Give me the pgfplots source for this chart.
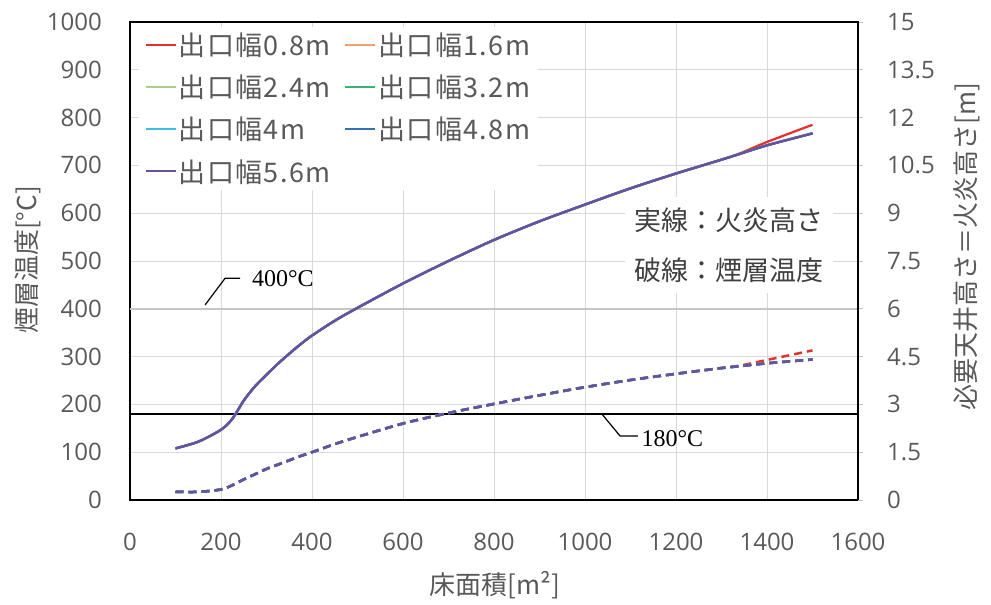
\documentclass[border=0pt]{standalone}
\usepackage{pgfplots}
\usepackage{pgfplotstable}
\pgfplotsset{compat=1.18}
\usepackage{fontspec}
\setmainfont{Open Sans}
\newfontfamily\cjk{Noto Sans CJK JP}
\newfontfamily\cjkls{Noto Sans CJK JP}[LetterSpace=5]
\newfontfamily\sernum{Liberation Serif}
\definecolor{txt}{HTML}{595959}
\definecolor{gridc}{HTML}{D9D9D9}
\definecolor{c1}{HTML}{E3312D}
\definecolor{c2}{HTML}{F4A06A}
\definecolor{c3}{HTML}{A8D08D}
\definecolor{c4}{HTML}{3BB273}
\definecolor{c5}{HTML}{3CBCE8}
\definecolor{c6}{HTML}{3470B8}
\definecolor{c7}{HTML}{6950A1}

\pgfplotstableread{
x s d
100 108 17
150 122 17
200 147 22
225 170 31
250 208 43
275 238 54
300 262 65
325 285 74
350 306 83
375 326 92
400 344 100
450 375 117
500 402 132
600 453 160
700 500 182
800 544 201
900 583 219
1000 618 236
1100 652 251
1200 683 264
1300 712 276
1340 724 280
1400 742 286
1500 767 294
}\purpledata

\pgfplotstableread{
x s d
100 108 17
150 122 17
200 147 22
225 170 31
250 208 43
275 238 54
300 262 65
325 285 74
350 306 83
375 326 92
400 344 100
450 375 117
500 402 132
600 453 160
700 500 182
800 544 201
900 583 219
1000 618 236
1100 652 251
1200 683 264
1300 712 276
1340 725 281
1400 749 293
1500 785 313
}\reddata

\begin{document}
\begin{tikzpicture}
\path[use as bounding box] (0,0) rectangle (991bp,605bp);
\begin{axis}[
  at={(130bp,105bp)}, anchor=south west,
  width=728bp, height=478bp, scale only axis,
  xmin=0, xmax=1600, ymin=0, ymax=1000,
  xtick={0,200,...,1600}, ytick={0,100,...,1000},
  grid=major, major grid style={gridc, line width=0.8bp},
  axis line style={black, line width=2bp},
  major tick length=0pt,
  /pgf/number format/assume math mode=true,
  /pgf/number format/set thousands separator={},
  ticklabel style={font=\fontsize{24bp}{28bp}\selectfont, text=txt, inner sep=0pt},
  xticklabel style={anchor=center, yshift=-42bp},
  yticklabel style={anchor=east, xshift=-28bp},
  xlabel={\cjk 床面積[m²]},
  xlabel style={at={(axis description cs:0.501,-0.178)}, anchor=center, font=\fontsize{26bp}{30bp}\selectfont, text=txt},
  ylabel={\cjk 煙層温度[°C]},
  ylabel style={at={(axis description cs:-0.140,0.502)}, anchor=center, font=\fontsize{26bp}{30bp}\selectfont, text=txt},
  legend style={at={(rel axis cs:0.012,0.99)}, anchor=north west, draw=none, fill=white,
    font=\cjkls\fontsize{27bp}{30bp}\selectfont, text=txt,
    /tikz/every even column/.append style={column sep=12bp},
    inner xsep=6bp, inner ysep=4bp, row sep=14bp},
  legend columns=2,
  legend cell align=left,
  legend image code/.code={\draw[#1, line width=2bp] (0bp,0bp) -- (30bp,0bp);},
]
\addplot[gray!45, line width=1.6bp, forget plot] coordinates {(0,400) (1600,400)};
\addplot[black, line width=1.6bp, forget plot] coordinates {(0,180) (1600,180)};

\addplot[c1, line width=2.25bp, smooth] table[x=x,y=s]{\reddata};
\addlegendentry{出口幅0.8m}
\addplot[c2, line width=2.25bp, smooth] table[x=x,y=s]{\purpledata};
\addlegendentry{出口幅1.6m}
\addplot[c3, line width=2.25bp, smooth] table[x=x,y=s]{\purpledata};
\addlegendentry{出口幅2.4m}
\addplot[c4, line width=2.25bp, smooth] table[x=x,y=s]{\purpledata};
\addlegendentry{出口幅3.2m}
\addplot[c5, line width=2.25bp, smooth] table[x=x,y=s]{\purpledata};
\addlegendentry{出口幅4m}
\addplot[c6, line width=2.25bp, smooth] table[x=x,y=s]{\purpledata};
\addlegendentry{出口幅4.8m}
\addplot[c7, line width=2.25bp, smooth] table[x=x,y=s]{\purpledata};
\addlegendentry{出口幅5.6m}

\addplot[c1, line width=2.5bp, dash pattern=on 8bp off 5bp, smooth, forget plot] table[x=x,y=d]{\reddata};
\addplot[c2, line width=2.5bp, dash pattern=on 8bp off 5bp, smooth, forget plot] table[x=x,y=d]{\purpledata};
\addplot[c3, line width=2.5bp, dash pattern=on 8bp off 5bp, smooth, forget plot] table[x=x,y=d]{\purpledata};
\addplot[c4, line width=2.5bp, dash pattern=on 8bp off 5bp, smooth, forget plot] table[x=x,y=d]{\purpledata};
\addplot[c5, line width=2.5bp, dash pattern=on 8bp off 5bp, smooth, forget plot] table[x=x,y=d]{\purpledata};
\addplot[c6, line width=2.5bp, dash pattern=on 8bp off 5bp, smooth, forget plot] table[x=x,y=d]{\purpledata};
\addplot[c7, line width=2.5bp, dash pattern=on 8bp off 5bp, smooth, forget plot] table[x=x,y=d]{\purpledata};

\draw[black, line width=1.2bp] (axis cs:165,408) -- (axis cs:209,464) -- (axis cs:242,464);
\node[anchor=west, inner sep=0pt, font=\sernum\fontsize{24bp}{28bp}\selectfont] at (axis cs:268,464) {400°C};
\draw[black, line width=1.2bp] (axis cs:1037,180) -- (axis cs:1077,134) -- (axis cs:1116,134);
\node[anchor=west, inner sep=0pt, font=\sernum\fontsize{24bp}{28bp}\selectfont] at (axis cs:1124,128) {180°C};

\node[fill=white, minimum width=208bp, minimum height=96bp, align=center, text=black!75,
  font=\cjk\fontsize{27bp}{50bp}\selectfont] at (axis cs:1316,533) {実線：火炎高さ\\破線：煙層温度};
\end{axis}

\begin{axis}[
  at={(130bp,105bp)}, anchor=south west,
  width=728bp, height=478bp, scale only axis,
  xmin=0, xmax=1600, ymin=0, ymax=15,
  hide x axis,
  axis y line*=right,
  axis line style={black, line width=2bp},
  ytick={0,1.5,3,4.5,6,7.5,9,10.5,12,13.5,15},
  yticklabels={0,1.5,3,4.5,6,7.5,9,10.5,12,13.5,15},
  major tick length=5bp, tick align=outside, tick style={gray!50, line width=0.8bp},
  ticklabel style={font=\fontsize{24bp}{28bp}\selectfont, text=txt, inner sep=0pt},
  yticklabel style={anchor=west, xshift=24bp},
  ylabel={\cjk 必要天井高さ＝火炎高さ[m]},
  ylabel style={at={(axis description cs:1.150,0.53)}, anchor=center, font=\fontsize{26bp}{30bp}\selectfont, text=txt},
]
\end{axis}
\end{tikzpicture}
\end{document}
